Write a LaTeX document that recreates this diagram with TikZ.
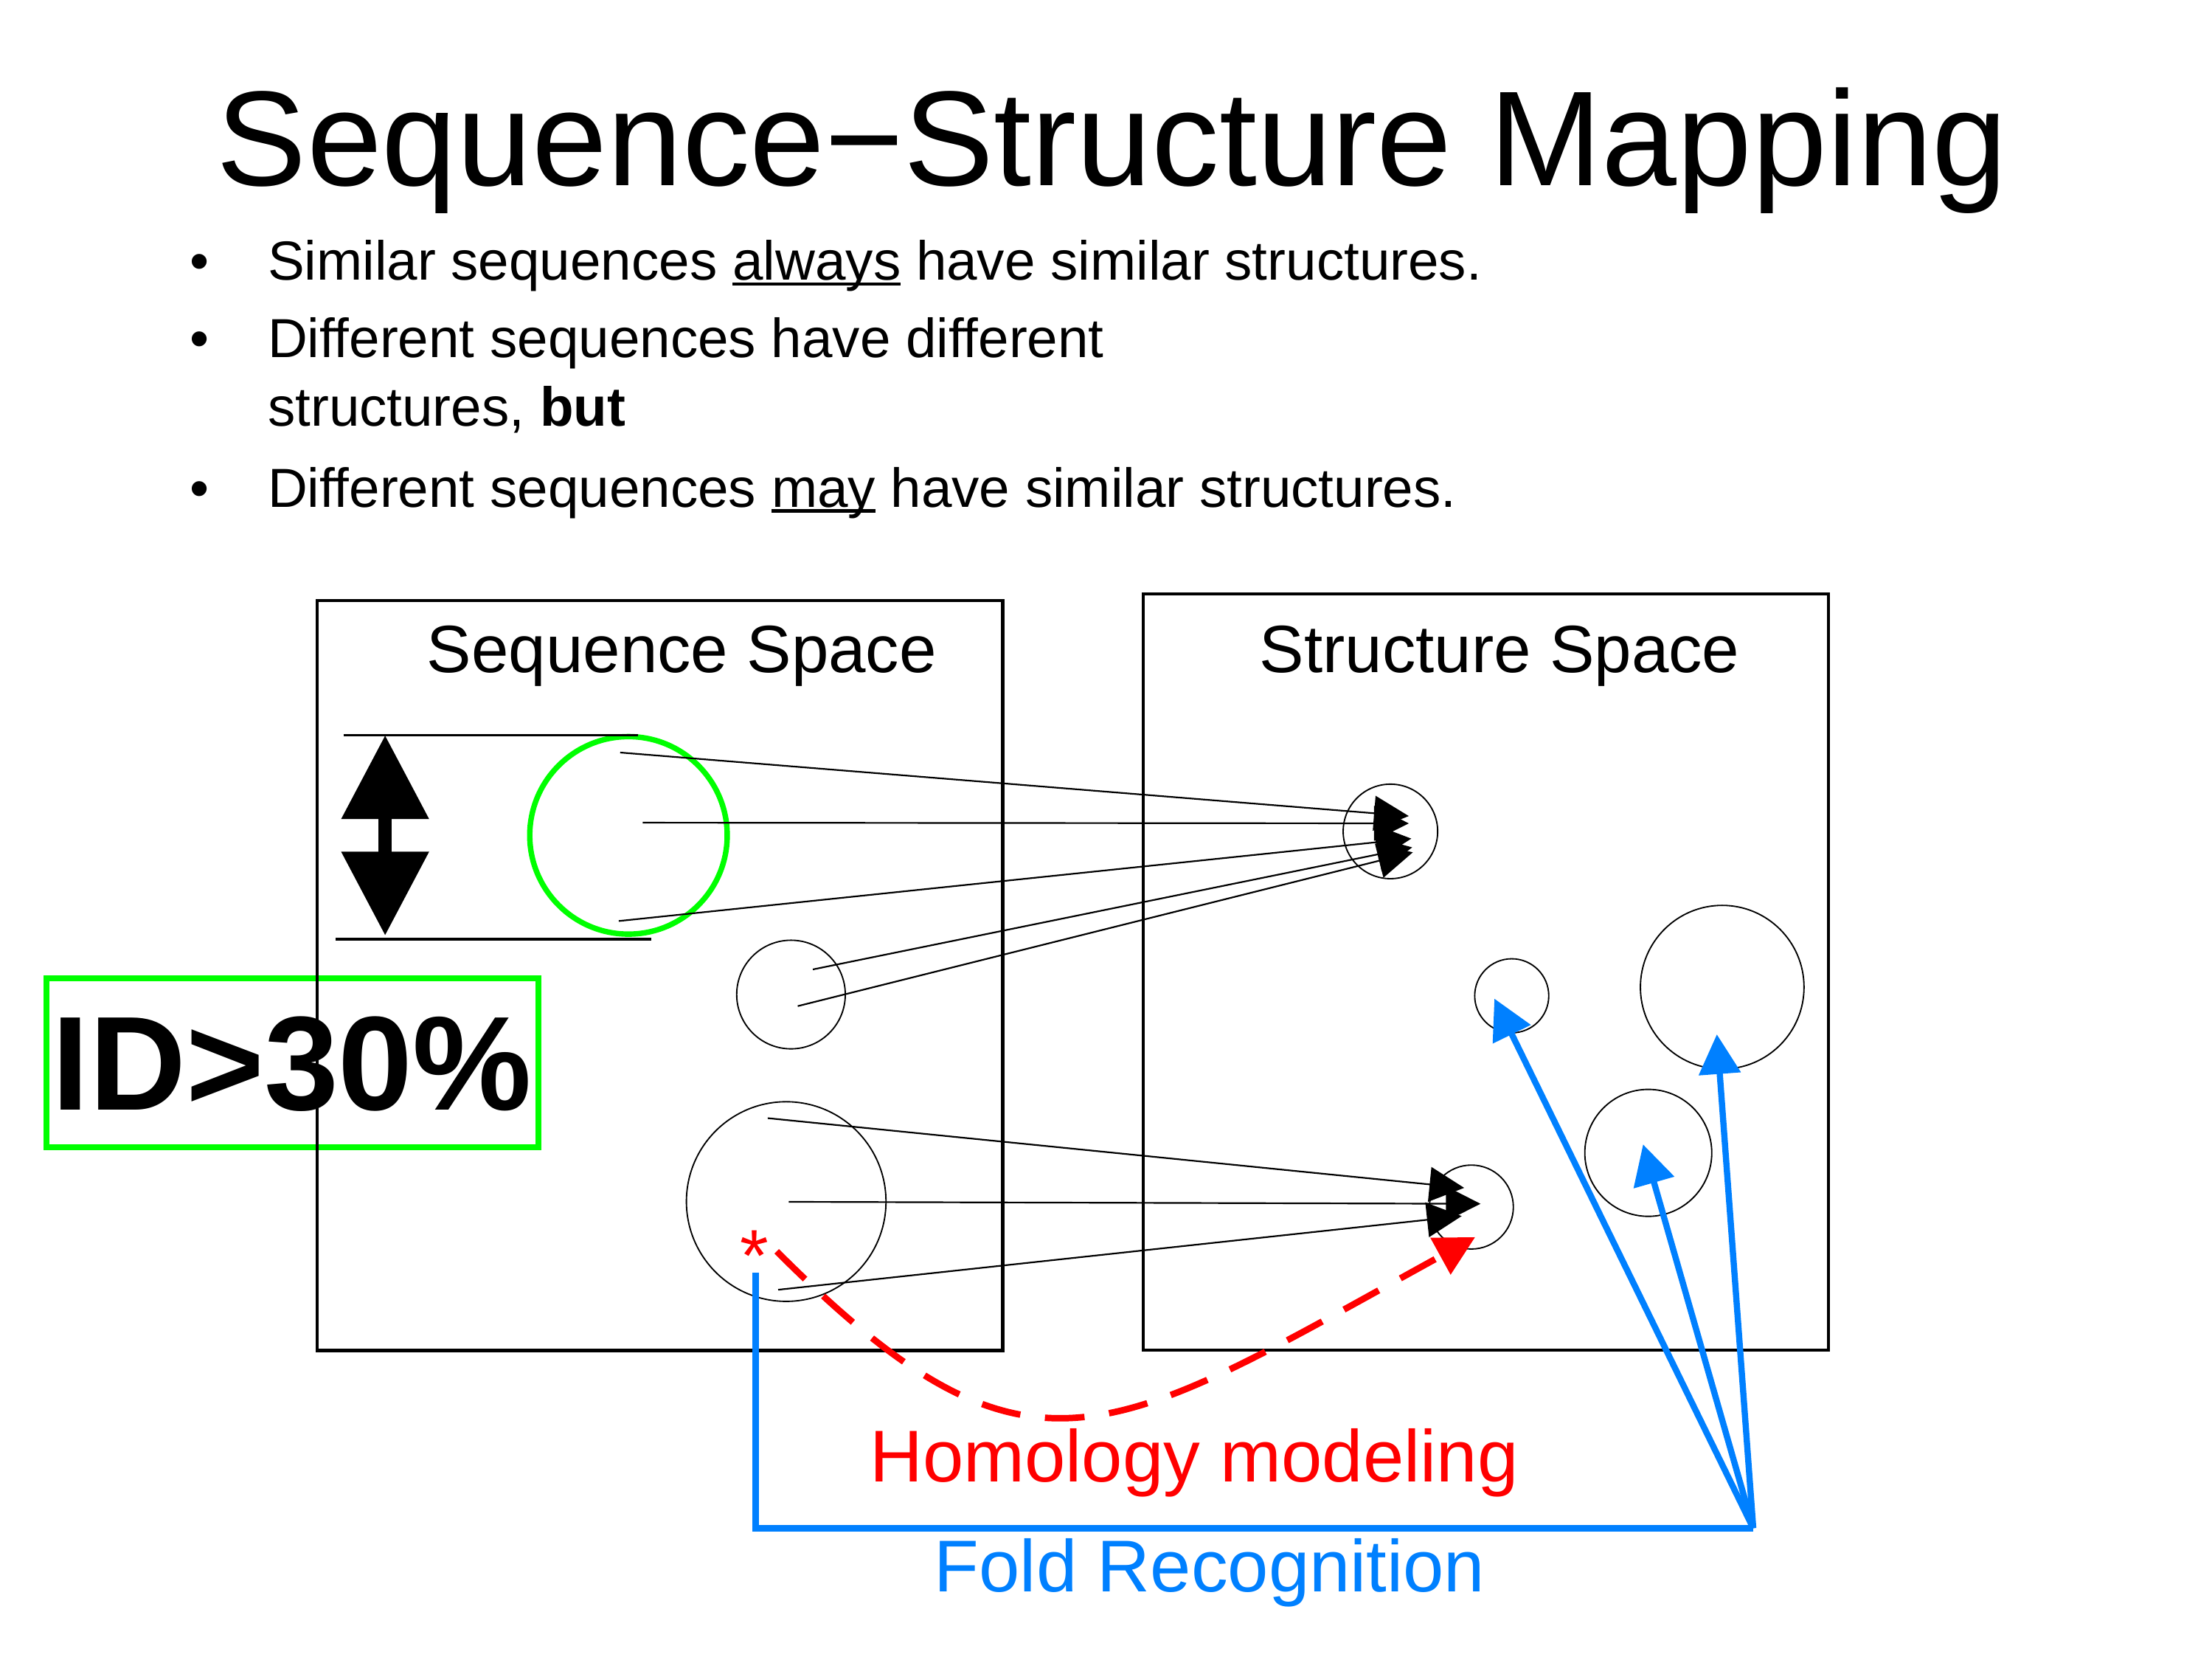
\documentclass[tikz,border=0pt]{standalone}
\usepackage{fontspec}
\setmainfont{Liberation Sans}
\usetikzlibrary{arrows.meta}
\definecolor{idgreen}{RGB}{0,255,0}
\definecolor{foldblue}{RGB}{0,128,255}
\definecolor{homred}{RGB}{255,0,0}
\newcommand{\ulword}[1]{\setbox0\hbox{#1}\rlap{\rule[-0.11em]{\wd0}{0.065em}}\box0\relax}

\begin{document}
\begin{tikzpicture}[x=0.02cm, y=-0.02cm,
        spacebox/.style={draw, line width=1.3pt},
        blob/.style={circle, draw, line width=0.55pt, inner sep=0pt},
        seqmap/.style={line width=0.65pt, -{Triangle[length=14pt,width=14pt]}},
        foldarrow/.style={draw=foldblue, line width=2.5pt, -{Triangle[length=16pt,width=16.5pt]}},
        homarrow/.style={draw=homred, line width=2.6pt, dash pattern=on 16pt off 10pt, -{Triangle[length=16pt,width=16.3pt]}},
        bulletdot/.style={anchor=base, inner sep=0pt, font=\fontsize{22.2}{27}\selectfont},
        bullettext/.style={anchor=base west, inner sep=0pt, font=\fontsize{22.2}{27}\selectfont},
        spacetitle/.style={anchor=base, inner sep=0pt, font=\fontsize{27}{32}\selectfont},
        methodlabel/.style={anchor=base, inner sep=0pt, font=\fontsize{29.6}{35}\selectfont}]

    \useasboundingbox (0,0) rectangle (1568,1175.9);

    % title and the three bullets
    \node[anchor=base, inner sep=0pt, font=\fontsize{54.5}{64}\selectfont] (title) at (788.5,131.7) {Sequence−Structure Mapping};

    \node[bulletdot] (dot1) at (141.5,198.3) {•};
    \node[bullettext] (line1) at (189.5,198.3) {Similar sequences \ulword{always} have similar structures.};
    \node[bulletdot] (dot2) at (141.5,253.1) {•};
    \node[bullettext] (line2) at (189.5,253.1) {Different sequences have different};
    \node[bullettext] (line2b) at (189.5,302.2) {structures, \textbf{but}};
    \node[bulletdot] (dot3) at (141.5,359.2) {•};
    \node[bullettext] (line3) at (189.5,359.2) {Different sequences \ulword{may} have similar structures.};

    % identity threshold box
    \draw[draw=idgreen, line width=2.6pt] (32.9,693.3) rectangle (381.7,813);
    \node[anchor=base, inner sep=0pt, font=\fontsize{54}{60}\selectfont\bfseries] (idtext) at (207,786.4) {ID>30\%};

    % the two spaces
    \draw[spacebox] (224.8,425.6) rectangle (710.7,957);
    \draw[spacebox] (810.4,420.9) rectangle (1296,956.8);
    \node[spacetitle] (seqtitle) at (483.3,476.6) {Sequence Space};
    \node[spacetitle] (strtitle) at (1063,476.6) {Structure Space};

    % sequence clusters
    \node[blob, draw=idgreen, line width=2.2pt, minimum size=2.8cm] (gset) at (445.5,592) {};
    \node[blob, minimum size=1.54cm] (aset) at (560.7,704.8) {};
    \node[blob, minimum size=2.83cm] (bset) at (557.3,851.5) {};

    % structure clusters
    \node[blob, minimum size=1.34cm] (s1) at (985.6,589.2) {};
    \node[blob, minimum size=1.05cm] (s2) at (1071.6,705.7) {};
    \node[blob, minimum size=2.32cm] (s3) at (1220.8,699.6) {};
    \node[blob, minimum size=1.8cm] (s4) at (1168.4,817) {};
    \node[blob, minimum size=1.19cm] (s5) at (1043,855.4) {};

    % width of the green cluster
    \coordinate (wtop) at (273,521);
    \coordinate (wbot) at (273,663);
    \draw[line width=1pt] (243.4,521) -- (452.3,521);
    \draw[line width=1pt] (237.9,665.6) -- (461.7,665.6);
    \draw[line width=5.3pt, {Triangle[length=33.8pt,width=34pt]}-{Triangle[length=33.8pt,width=34pt]}] (wtop) -- (wbot);

    % sequence -> structure
    \coordinate (g1) at (439.6,533.3);
    \coordinate (g2) at (455.6,583);
    \coordinate (g3) at (438.6,652.7);
    \coordinate (a1) at (576.2,687);
    \coordinate (a2) at (565.5,713);
    \coordinate (p1) at (544.2,792.4);
    \coordinate (p2) at (559.1,851.7);
    \coordinate (p3) at (551.6,914);
    \coordinate (h1) at (998.6,578.3);
    \coordinate (h2) at (998.6,583.5);
    \coordinate (h3) at (1000.4,594.3);
    \coordinate (h4) at (1001,600.5);
    \coordinate (h5) at (1001.5,604);
    \coordinate (k1) at (1037.9,841.8);
    \coordinate (k2) at (1049.5,853.1);
    \coordinate (k3) at (1036.1,861.8);
    \draw[seqmap] (g1) -- (h1);
    \draw[seqmap] (g2) -- (h2);
    \draw[seqmap] (g3) -- (h3);
    \draw[seqmap] (a1) -- (h4);
    \draw[seqmap] (a2) -- (h5);
    \draw[seqmap] (p1) -- (k1);
    \draw[seqmap] (p2) -- (k2);
    \draw[seqmap] (p3) -- (k3);

    % homology modeling
    \node[methodlabel, text=homred] (star) at (534.6,907.7) {*};
    \coordinate (hmstart) at (550.6,886.8);
    \coordinate (hmtip) at (1045.7,876.7);
    \draw[homarrow] (hmstart) .. controls (730.6,1066.8) and (785.7,1019.7) .. (hmtip);
    \node[methodlabel, text=homred] (homlabel) at (846.5,1050.2) {Homology modeling};

    % fold recognition
    \coordinate (fbstart) at (535.7,901.8);
    \coordinate (fbcorner) at (1242.8,1083);
    \coordinate (f2) at (1059.3,707.7);
    \coordinate (f3) at (1217,733);
    \coordinate (f4) at (1164.7,811);
    \draw[draw=foldblue, line width=2.5pt] (fbstart) |- (fbcorner);
    \draw[foldarrow] (fbcorner) -- (f2);
    \draw[foldarrow] (fbcorner) -- (f4);
    \draw[foldarrow] (fbcorner) -- (f3);
    \node[methodlabel, text=foldblue] (foldlabel) at (857.5,1127.8) {Fold Recognition};

\end{tikzpicture}
\end{document}
